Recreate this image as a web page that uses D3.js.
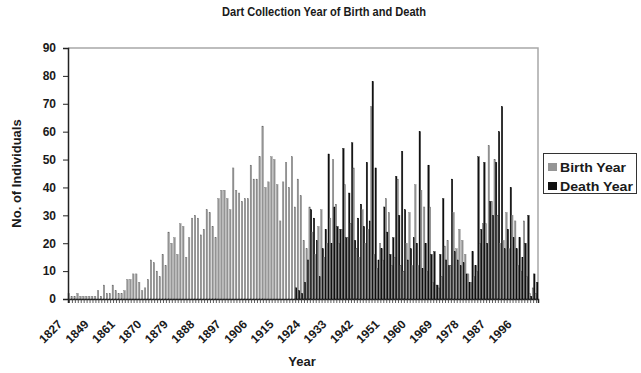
<!DOCTYPE html>
<html>
<head>
<meta charset="utf-8">
<script src="https://cdn.jsdelivr.net/npm/d3@7"></script>
<style>
  body { margin: 0; background: #fff; }
  svg { display: block; }
  text { font-family: "Liberation Sans", Arial, sans-serif; font-weight: bold; fill: #1a1a1a; }
</style>
</head>
<body>
<svg id="chart" width="641" height="373"></svg>
<script>
// Category axis: a few sparse early years, then every year from 1861 on
const earlyYears = [1827, 1830, 1834, 1836, 1838, 1840, 1842, 1844, 1847,
                    1849, 1850, 1852, 1853, 1854, 1855, 1857, 1858, 1860];
const laterYears = d3.range(1861, 2003);
const years = earlyYears.concat(laterYears);

// Year labels printed under the axis
const tickYears = [1827, 1849, 1861, 1870, 1879, 1888, 1897, 1906, 1915,
                   1924, 1933, 1942, 1951, 1960, 1969, 1978, 1987, 1996];

// Number of individuals born in each year
const birthYear = [
  2, 1, 1, 2, 1, 1, 1, 1, 1, 1,
  3, 1, 5, 2, 2, 5, 3, 2, 2, 3,
  7, 7, 9, 9, 6, 3, 4, 7, 14, 13,
  10, 8, 16, 12, 24, 20, 22, 16, 27, 26,
  15, 22, 29, 30, 29, 23, 25, 32, 31, 26,
  22, 36, 39, 39, 36, 32, 47, 39, 38, 35,
  36, 36, 48, 43, 43, 51, 62, 40, 42, 51,
  50, 41, 28, 42, 49, 40, 51, 33, 43, 37,
  21, 18, 33, 24, 16, 26, 32, 15, 20, 29,
  50, 34, 20, 25, 41, 22, 27, 47, 18, 15,
  32, 20, 25, 69, 16, 11, 20, 14, 36, 31,
  12, 15, 43, 12, 10, 20, 31, 12, 41, 12,
  39, 33, 10, 33, 6, 5, 4, 8, 19, 21,
  12, 31, 18, 25, 21, 16, 9, 6, 8, 10,
  20, 27, 27, 55, 35, 50, 30, 20, 21, 31,
  18, 30, 28, 12, 10, 28, 8, 2, 4, 2
];

// Number of individuals who died in each year
const deathYear = [
  0, 0, 0, 0, 0, 0, 0, 0, 0, 0,
  0, 0, 0, 0, 0, 0, 0, 0, 0, 0,
  0, 0, 0, 0, 0, 0, 0, 0, 0, 0,
  0, 0, 0, 0, 0, 0, 0, 0, 0, 0,
  0, 0, 0, 0, 0, 0, 0, 0, 0, 0,
  0, 0, 0, 0, 0, 0, 0, 0, 0, 0,
  0, 0, 0, 0, 0, 0, 0, 0, 0, 0,
  0, 0, 0, 0, 0, 0, 0, 4, 3, 2,
  6, 14, 32, 29, 21, 8, 18, 25, 52, 20,
  33, 26, 25, 54, 22, 38, 56, 21, 29, 34,
  26, 49, 28, 78, 47, 14, 18, 33, 24, 16,
  22, 44, 30, 53, 32, 14, 18, 22, 20, 60,
  11, 20, 48, 16, 17, 5, 16, 36, 14, 12,
  43, 17, 14, 12, 13, 9, 6, 17, 12, 51,
  25, 49, 20, 35, 30, 49, 60, 69, 18, 25,
  40, 22, 18, 22, 15, 20, 30, 1, 9, 6
];

const yTicks = [0, 10, 20, 30, 40, 50, 60, 70, 80, 90];
const seriesNames = ["Birth Year", "Death Year"];
const seriesColors = ["#959595", "#111111"];
const seriesEdges = ["#6a6a6a", "#000000"];

const svg = d3.select("#chart");
const plot = { left: 68, right: 538, top: 48, bottom: 299 };

const x = d3.scaleBand().domain(years).range([plot.left, plot.right]).padding(0);
const xs = d3.scaleBand().domain([0, 1]).range([0, x.bandwidth()]).padding(0);
const y = d3.scaleLinear().domain([0, 90]).range([plot.bottom, plot.top]);

const rows = years.map((yr, i) => ({ year: yr, values: [birthYear[i], deathYear[i]] }));

// Plot frame (top and right edges)
svg.append("path")
  .attr("d", `M${plot.left},${plot.top}H${plot.right}V${plot.bottom}`)
  .attr("fill", "none")
  .attr("stroke", "#a8a8a8")
  .attr("stroke-width", 1.5);

// Grouped bars, thin dark edge on each
const groups = svg.append("g").selectAll("g")
  .data(rows)
  .join("g")
  .attr("transform", d => `translate(${x(d.year)},0)`);

groups.selectAll("rect")
  .data(d => d.values.map((v, k) => ({ k, v })))
  .join("rect")
  .attr("x", d => xs(d.k))
  .attr("width", xs.bandwidth())
  .attr("y", d => y(d.v))
  .attr("height", d => y(0) - y(d.v))
  .attr("fill", d => seriesColors[d.k])
  .attr("stroke", d => seriesEdges[d.k])
  .attr("stroke-width", 0.35);

// Value axis
const yAxis = svg.append("g")
  .attr("transform", `translate(${plot.left},0)`)
  .call(d3.axisLeft(y).tickValues(yTicks).tickSize(5).tickPadding(7));
yAxis.select(".domain").attr("stroke", "#222").attr("stroke-width", 1.5);
yAxis.selectAll(".tick line").attr("stroke", "#222");
yAxis.selectAll("text")
  .attr("font-size", 12)
  .attr("font-family", "\"Liberation Sans\", Arial, sans-serif")
  .attr("font-weight", "bold")
  .attr("fill", "#1a1a1a");

// Category axis with a tick for every year
const xAxis = svg.append("g")
  .attr("transform", `translate(0,${plot.bottom})`)
  .call(d3.axisBottom(x).tickSize(4).tickFormat(""));
xAxis.select(".domain").attr("stroke", "#222").attr("stroke-width", 1.5);
xAxis.selectAll(".tick line").attr("stroke", "#333").attr("stroke-width", 0.8);

// Rotated year labels
svg.append("g").selectAll("text")
  .data(tickYears)
  .join("text")
  .attr("transform", d => `translate(${x(d) + x.bandwidth() / 2 - 6.5},325) rotate(-45)`)
  .attr("text-anchor", "end")
  .attr("font-size", 12)
  .text(d => d);

// Titles
svg.append("text")
  .attr("x", 324).attr("y", 16)
  .attr("text-anchor", "middle")
  .attr("font-size", 12.5)
  .attr("textLength", 204)
  .attr("lengthAdjust", "spacingAndGlyphs")
  .text("Dart Collection Year of Birth and Death");

svg.append("text")
  .attr("x", 302).attr("y", 366)
  .attr("text-anchor", "middle")
  .attr("font-size", 13)
  .text("Year");

svg.append("text")
  .attr("transform", `translate(21,${(plot.top + plot.bottom) / 2}) rotate(-90)`)
  .attr("text-anchor", "middle")
  .attr("font-size", 13)
  .text("No. of Individuals");

// Legend
const legend = svg.append("g");
legend.append("rect")
  .attr("x", 543.5).attr("y", 153.5)
  .attr("width", 93).attr("height", 40)
  .attr("fill", "#fff")
  .attr("stroke", "#333");
const legendWidths = [66, 73];
seriesNames.forEach((name, i) => {
  legend.append("rect")
    .attr("x", 548).attr("y", 163 + i * 19)
    .attr("width", 9).attr("height", 8)
    .attr("fill", seriesColors[i]);
  legend.append("text")
    .attr("x", 560).attr("y", 172 + i * 19)
    .attr("font-size", 13.5)
    .attr("textLength", legendWidths[i])
    .attr("lengthAdjust", "spacingAndGlyphs")
    .text(name);
});
</script>
</body>
</html>
